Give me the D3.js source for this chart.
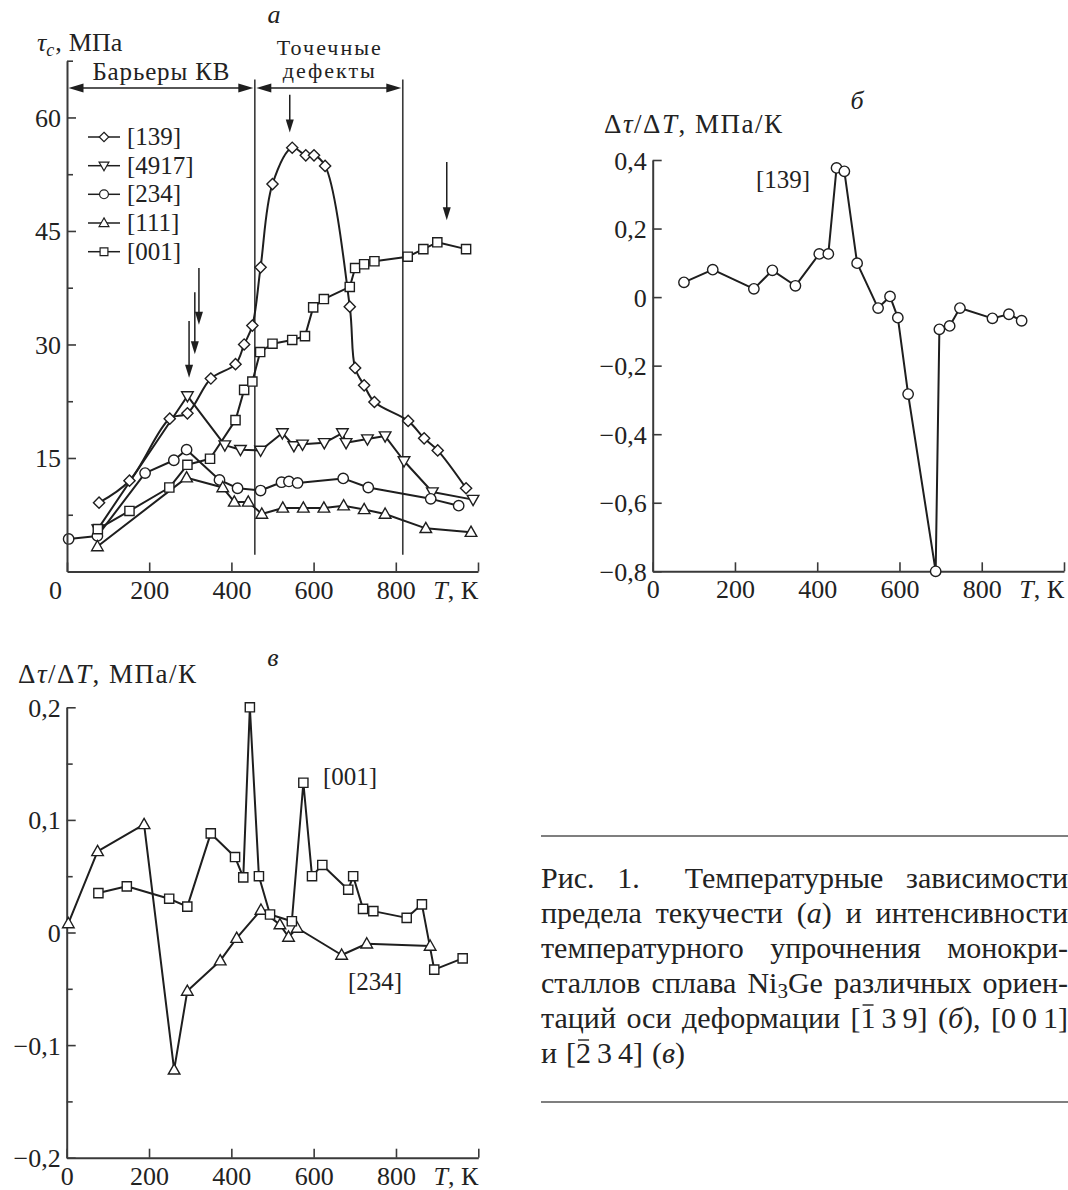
<!DOCTYPE html>
<html><head><meta charset="utf-8">
<script src="https://cdn.jsdelivr.net/npm/d3@7"></script>
<style>
body{margin:0;background:#fff}
svg{display:block}
text{font-family:"Liberation Serif","DejaVu Serif",serif;fill:#222}
</style>
</head><body>
<svg id="c" width="1068" height="1190"></svg>
<script>
// ================= DATA =================
// Panel a: yield stress tau_c (MPa) vs T (K)
const T_139   = [78, 152, 250, 293, 350, 410, 431, 451, 471, 500, 548, 581, 601, 628, 688, 701, 723, 748, 830, 869, 902, 971];
const tau_139 = [9.1, 12.0, 20.2, 20.9, 25.5, 27.4, 30.0, 32.5, 40.2, 51.2, 56.0, 55.0, 55.0, 53.6, 35.0, 26.9, 24.6, 22.4, 19.9, 17.6, 16.0, 11.0];
const T_4917   = [75, 293, 384, 422, 471, 524, 552, 573, 626, 670, 679, 731, 774, 820, 889, 988];
const tau_4917 = [5.6, 23.2, 16.7, 16.1, 16.0, 18.3, 16.6, 16.8, 17.0, 18.3, 17.0, 17.5, 17.9, 14.6, 10.5, 9.5];
const T_234   = [4, 74, 190, 260, 291, 371, 415, 471, 522, 540, 561, 672, 733, 885, 953];
const tau_234 = [4.3, 4.7, 13.0, 14.7, 16.1, 12.1, 11.0, 10.7, 11.8, 11.9, 11.7, 12.3, 11.1, 9.6, 8.7];
const T_111   = [74, 291, 379, 407, 441, 474, 525, 575, 625, 673, 723, 774, 873, 983];
const tau_111 = [3.3, 12.4, 11.1, 9.2, 9.2, 7.6, 8.4, 8.4, 8.4, 8.7, 8.2, 7.6, 5.7, 5.2];
const T_001   = [75, 152, 249, 293, 348, 410, 431, 451, 470, 500, 548, 579, 599, 625, 688, 701, 723, 748, 829, 867, 901, 971];
const tau_001 = [5.6, 8.0, 11.1, 14.1, 14.9, 20.0, 24.0, 25.1, 29.0, 30.1, 30.6, 31.1, 34.9, 36.0, 37.6, 40.1, 40.6, 41.0, 41.6, 42.6, 43.5, 42.6];
const legendLabels = ["[139]", "[4917]", "[234]", "[111]", "[001]"];
const arrowT   = [297, 311, 321, 542, 924];
const arrowTop = [33.1, 36.9, 40.1, 63.0, 54.1];
const arrowBot = [25.6, 28.7, 32.6, 58.0, 46.4];
const regionT  = [457, 817];
const yTicksA  = [15, 30, 45, 60];
const yMinorA  = [7.5, 22.5, 37.5, 52.5, 67.5];
const xTicks   = [0, 200, 400, 600, 800, 1000];

// Panel б: dτ/dT for [139]
const T_b = [76, 146, 246, 291, 347, 405, 427, 447, 466, 497, 548, 577, 596, 621, 688, 697, 722, 747, 826, 866, 897];
const v_b = [0.043, 0.080, 0.024, 0.078, 0.033, 0.126, 0.126, 0.377, 0.367, 0.099, -0.032, 0.002, -0.060, -0.283, -0.80, -0.094, -0.084, -0.032, -0.062, -0.050, -0.069];
const yTicksB = [-0.8, -0.6, -0.4, -0.2, 0, 0.2, 0.4];

// Panel в: dτ/dT for [001] (squares) and [234] (triangles)
const T_c001 = [77, 146, 249, 293, 350, 409, 429, 445, 467, 494, 547, 575, 596, 621, 684, 696, 720, 745, 826, 863, 893, 962];
const v_c001 = [0.035, 0.041, 0.030, 0.023, 0.088, 0.067, 0.049, 0.200, 0.050, 0.016, 0.010, 0.133, 0.050, 0.060, 0.038, 0.050, 0.021, 0.019, 0.013, 0.025, -0.033, -0.023];
const T_c234 = [4, 75, 188, 261, 293, 373, 413, 472, 518, 539, 560, 668, 729, 883];
const v_c234 = [0.008, 0.072, 0.096, -0.122, -0.052, -0.025, -0.005, 0.020, 0.007, -0.004, 0.004, -0.020, -0.010, -0.012];
const yTicksC = [-0.2, -0.1, 0, 0.1, 0.2];
const yMinorC = [-0.15, -0.05, 0.05, 0.15];

// Caption (^ = overbar on next char, _ = subscript digit, *..* = italic)
const captionLines = [
  "Рис. 1.  Температурные зависимости",
  "предела текучести (*a*) и интенсивности",
  "температурного упрочнения монокри-",
  "сталлов сплава Ni_3Ge различных ориен-",
  "таций оси деформации [^1\u20093\u20099] (*б*), [0\u20090\u20091]",
  "и [^2\u20093\u20094] (*в*)"
];

// ================= DRAWING =================
const svg = d3.select("#c");
const INK = "#1e1e1e", AX = "#3a3a3a";
const TF = 26, LF = 26;
const FAM = '"Liberation Serif","DejaVu Serif",serif';

const fmt = v => v === 0 ? "0" : (v < 0 ? "\u2212" : "") + String(Math.abs(v)).replace(".", ",");

function markerPath(type) {
  switch (type) {
    case "diamond": return "M0,-5.6L5.6,0L0,5.6L-5.6,0Z";
    case "square": return "M-4.6,-4.6H4.6V4.6H-4.6Z";
    case "circle": return "M5.2,0A5.2,5.2 0 1,1 -5.2,0A5.2,5.2 0 1,1 5.2,0Z";
    case "tup": return "M0,-6L5.8,4.2L-5.8,4.2Z";
    case "tdown": return "M0,6L5.8,-4.2L-5.8,-4.2Z";
  }
}
function drawMarkers(g, pts, x, y, type) {
  g.selectAll(null).data(pts).join("path")
    .attr("d", markerPath(type))
    .attr("transform", d => `translate(${x(d[0])},${y(d[1])})`)
    .attr("fill", "#fff").attr("stroke", INK).attr("stroke-width", 1.4);
}
function drawLine(g, pts, x, y, curve) {
  g.append("path").datum(pts)
    .attr("d", d3.line().x(d => x(d[0])).y(d => y(d[1])).curve(curve || d3.curveLinear))
    .attr("fill", "none").attr("stroke", INK).attr("stroke-width", 2).attr("stroke-linejoin", "round");
}
function head(g, tx, ty, dx, dy, L = 15, W = 4.5) {
  const nx = -dy, ny = dx;
  g.append("path")
    .attr("d", `M${tx},${ty}L${tx - L * dx + W * nx},${ty - L * dy + W * ny}L${tx - L * dx - W * nx},${ty - L * dy - W * ny}Z`)
    .attr("fill", INK);
}
function yAxis(x0, y, major, minor, labelFmt) {
  const g = svg.append("g").attr("transform", `translate(${x0},0)`);
  g.call(d3.axisLeft(y).tickValues(major).tickSize(-9).tickSizeOuter(0).tickPadding(6).tickFormat(labelFmt));
  g.attr("color", AX).attr("font-family", null).attr("font-size", null);
  g.select(".domain").attr("stroke-width", 2);
  g.selectAll(".tick line").attr("stroke-width", 1.6);
  g.selectAll(".tick text").attr("font-size", TF).attr("dy", null).attr("y", 9).style("fill", "#222");
  if (minor) {
    const m = svg.append("g").attr("transform", `translate(${x0},0)`)
      .call(d3.axisLeft(y).tickValues(minor).tickSize(-6).tickSizeOuter(0).tickFormat(""));
    m.attr("color", AX); m.select(".domain").remove();
    m.selectAll(".tick line").attr("stroke-width", 1.6);
  }
  return g;
}
function xAxis(y0, x, ticks, zeroShift) {
  const g = svg.append("g").attr("transform", `translate(0,${y0})`);
  g.call(d3.axisBottom(x).tickValues(ticks).tickSize(-9).tickSizeOuter(0).tickPadding(0)
    .tickFormat(v => v === 1000 ? "" : String(v)));
  g.attr("color", AX).attr("font-family", null).attr("font-size", null);
  g.select(".domain").attr("stroke-width", 2);
  g.selectAll(".tick line").attr("stroke-width", 1.6);
  g.selectAll(".tick text").attr("font-size", TF).attr("dy", null).attr("y", 27).style("fill", "#222")
    .attr("x", d => d === 0 ? (zeroShift || 0) : 0);
  const t = svg.append("text").attr("x", x(1000)).attr("y", y0 + 27).attr("text-anchor", "end").attr("font-size", TF);
  t.append("tspan").attr("font-style", "italic").text("T");
  t.append("tspan").text(", К");
  return g;
}
function dLabel(x, y) {
  const t = svg.append("text").attr("x", x).attr("y", y).attr("font-size", 27)
    .attr("textLength", 178).attr("lengthAdjust", "spacing");
  t.append("tspan").text("Δ");
  t.append("tspan").attr("font-style", "italic").text("τ");
  t.append("tspan").text("/Δ");
  t.append("tspan").attr("font-style", "italic").text("T");
  t.append("tspan").text(", МПа/К");
}

// ---------- Panel a ----------
const xA = d3.scaleLinear([0, 1000], [67, 478]);
const yA = d3.scaleLinear([0, 67.5], [571.5, 60.7]);
const gA = svg.append("g");

regionT.forEach(t => {
  gA.append("line").attr("x1", xA(t)).attr("x2", xA(t)).attr("y1", yA(65)).attr("y2", yA(2.2))
    .attr("stroke", AX).attr("stroke-width", 1.6);
});
const yArr = yA(63.9);
[[xA(0) + 1.5, xA(regionT[0]) - 1.5], [xA(regionT[0]) + 1.5, xA(regionT[1]) - 1.5]].forEach(([a, b]) => {
  gA.append("line").attr("x1", a + 10).attr("x2", b - 10).attr("y1", yArr).attr("y2", yArr).attr("stroke", INK).attr("stroke-width", 1.5);
  head(gA, a, yArr, -1, 0);
  head(gA, b, yArr, 1, 0);
});
svg.append("text").attr("x", (xA(0) + xA(regionT[0])) / 2).attr("y", 80).attr("text-anchor", "middle").attr("font-size", 25)
  .attr("textLength", 137).attr("lengthAdjust", "spacing").text("Барьеры КВ");
svg.append("text").attr("x", (xA(regionT[0]) + xA(regionT[1])) / 2).attr("y", 55).attr("text-anchor", "middle").attr("font-size", 22)
  .attr("textLength", 104).attr("lengthAdjust", "spacing").text("Точечные");
svg.append("text").attr("x", (xA(regionT[0]) + xA(regionT[1])) / 2).attr("y", 78).attr("text-anchor", "middle").attr("font-size", 22)
  .attr("textLength", 92).attr("lengthAdjust", "spacing").text("дефекты");

arrowT.forEach((t, i) => {
  const x = xA(t), y1 = yA(arrowTop[i]), y2 = yA(arrowBot[i]);
  gA.append("line").attr("x1", x).attr("x2", x).attr("y1", y1).attr("y2", y2 - 10).attr("stroke", INK).attr("stroke-width", 1.5);
  head(gA, x, y2, 0, 1, 13, 4);
});

yAxis(xA(0), yA, yTicksA, yMinorA, fmt);
xAxis(yA(0), xA, xTicks, -12);

const sA = [
  { T: T_4917, v: tau_4917, m: "tdown" },
  { T: T_234, v: tau_234, m: "circle" },
  { T: T_111, v: tau_111, m: "tup" },
  { T: T_139, v: tau_139, m: "diamond", curve: d3.curveCatmullRom.alpha(0.5) },
  { T: T_001, v: tau_001, m: "square" }
];
sA.forEach(s => drawLine(gA, d3.zip(s.T, s.v), xA, yA, s.curve));
sA.forEach(s => drawMarkers(gA, d3.zip(s.T, s.v), xA, yA, s.m));

const legTypes = ["diamond", "tdown", "circle", "tup", "square"];
const legY = [137, 165.7, 194.3, 223, 251.7];
legendLabels.forEach((lab, i) => {
  const g = svg.append("g").attr("transform", `translate(0,${legY[i]})`);
  g.append("line").attr("x1", 88).attr("x2", 120).attr("stroke", INK).attr("stroke-width", 1.5);
  g.append("path").attr("d", markerPath(legTypes[i])).attr("transform", "translate(104,0) scale(0.85)")
    .attr("fill", "#fff").attr("stroke", INK).attr("stroke-width", 1.4);
  g.append("text").attr("x", 127).attr("y", 8).attr("font-size", 25).text(lab);
});

{
  const t = svg.append("text").attr("x", 37).attr("y", 51).attr("font-size", LF);
  t.append("tspan").attr("font-style", "italic").text("τ");
  t.append("tspan").attr("font-style", "italic").attr("font-size", 18).attr("dy", 5).text("c");
  t.append("tspan").attr("dy", -5).attr("dx", 1).text(",");
  t.append("tspan").attr("dx", 7).text("МПа");
}
svg.append("text").attr("x", 274).attr("y", 23).attr("text-anchor", "middle").attr("font-size", LF).attr("font-style", "italic").text("a");

// ---------- Panel б ----------
const xB = d3.scaleLinear([0, 1000], [652.7, 1064]);
const yB = d3.scaleLinear([-0.8, 0.4], [571.3, 160]);
yAxis(xB(0), yB, yTicksB, null, fmt);
xAxis(yB(-0.8), xB, xTicks, 0);
const gB = svg.append("g");
drawLine(gB, d3.zip(T_b, v_b), xB, yB);
drawMarkers(gB, d3.zip(T_b, v_b), xB, yB, "circle");
svg.append("text").attr("x", 756).attr("y", 188).attr("font-size", 25).text("[139]");
dLabel(604, 133);
svg.append("text").attr("x", 857).attr("y", 109).attr("text-anchor", "middle").attr("font-size", LF).attr("font-style", "italic").text("б");

// ---------- Panel в ----------
const xC = d3.scaleLinear([0, 1000], [66.7, 478.3]);
const yC = d3.scaleLinear([-0.2, 0.2], [1157.7, 707.3]);
yAxis(xC(0), yC, yTicksC, yMinorC, fmt);
xAxis(yC(-0.2), xC, xTicks, 0);
const gC = svg.append("g");
drawLine(gC, d3.zip(T_c234, v_c234), xC, yC);
drawLine(gC, d3.zip(T_c001, v_c001), xC, yC);
drawMarkers(gC, d3.zip(T_c234, v_c234), xC, yC, "tup");
drawMarkers(gC, d3.zip(T_c001, v_c001), xC, yC, "square");
svg.append("text").attr("x", 323).attr("y", 785).attr("font-size", 25).text("[001]");
svg.append("text").attr("x", 348).attr("y", 990).attr("font-size", 25).text("[234]");
dLabel(18, 683);
svg.append("text").attr("x", 273).attr("y", 666).attr("text-anchor", "middle").attr("font-size", LF).attr("font-style", "italic").text("в");

// ---------- Caption ----------
const CF = 30, capL = 541, capR = 1068, capY0 = 888, capDY = 35;
svg.append("line").attr("x1", capL).attr("x2", 1068).attr("y1", 836).attr("y2", 836).attr("stroke", "#555").attr("stroke-width", 1.6);
svg.append("line").attr("x1", capL).attr("x2", 1068).attr("y1", 1102).attr("y2", 1102).attr("stroke", "#555").attr("stroke-width", 1.6);

function wordText(word, x, y) {
  const t = svg.append("text").attr("x", x).attr("y", y).attr("font-size", CF).style("font-family", FAM);
  const re = /\*([^*]+)\*|_(\d)|\^(.)|([^*_^]+)/g;
  let m, shift = 0, idx = 0;
  const bars = [];
  while ((m = re.exec(word))) {
    if (m[1]) { t.append("tspan").attr("font-style", "italic").attr("dy", -shift).text(m[1]); shift = 0; idx += m[1].length; }
    else if (m[2]) { t.append("tspan").attr("font-size", 21).attr("dy", 5 - shift).text(m[2]); shift = 5; idx += 1; }
    else if (m[3]) { t.append("tspan").attr("dy", -shift).text(m[3]); shift = 0; bars.push(idx); idx += 1; }
    else { t.append("tspan").attr("dy", -shift).text(m[4]); shift = 0; idx += m[4].length; }
  }
  return { t, bars };
}
captionLines.forEach((line, i) => {
  const y = capY0 + i * capDY;
  const toks = line.split(" ");
  const words = []; let w = 1;
  toks.forEach((tk, j) => {
    if (tk === "") { w++; return; }
    words.push({ s: tk, gap: j === 0 ? 0 : w }); w = 1;
  });
  const els = words.map(wd => wordText(wd.s, capL, y));
  const widths = els.map(e => e.t.node().getComputedTextLength());
  const last = i === captionLines.length - 1;
  const totalW = d3.sum(widths);
  const totalGap = d3.sum(words, d => d.gap);
  const unit = last ? CF * 0.3 : (capR - capL - totalW) / totalGap;
  let x = capL;
  els.forEach((e, k) => {
    x += words[k].gap * unit;
    e.t.attr("x", x);
    x += widths[k];
    e.bars.forEach(ci => {
      const n = e.t.node();
      const s = n.getStartPositionOfChar(ci).x, en = n.getEndPositionOfChar(ci).x;
      svg.append("line").attr("x1", s + 2).attr("x2", en - 2).attr("y1", y - 23).attr("y2", y - 23)
        .attr("stroke", "#222").attr("stroke-width", 1.4);
    });
  });
});

svg.selectAll("text").style("font-family", FAM);
</script>
</body></html>
